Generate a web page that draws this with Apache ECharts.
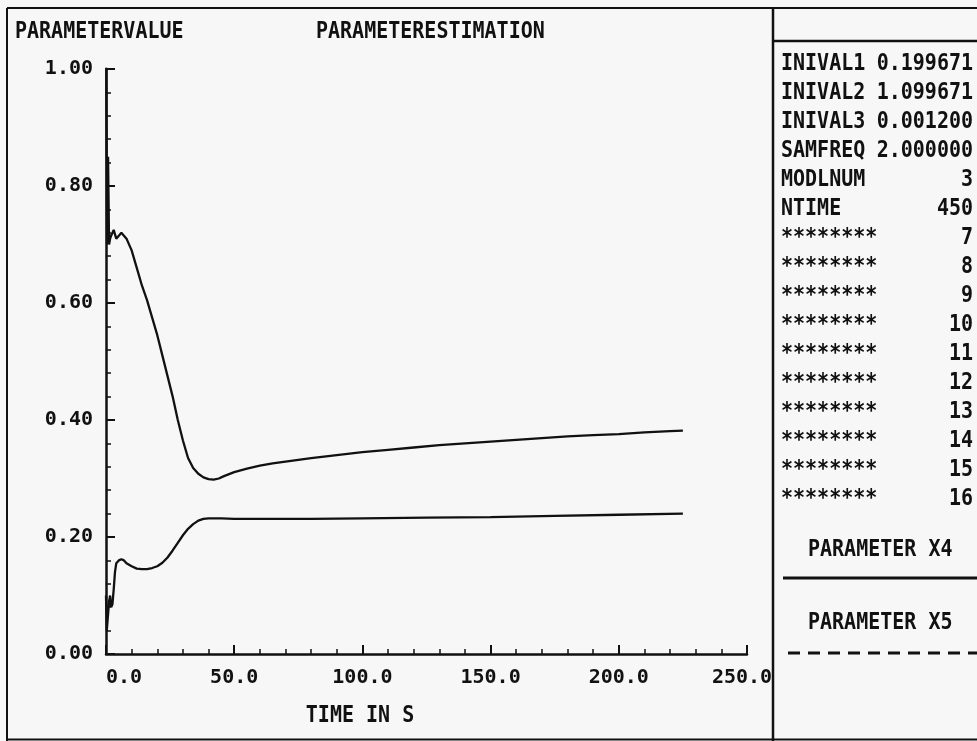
<!DOCTYPE html>
<html>
<head>
<meta charset="utf-8">
<title>PARAMETERESTIMATION</title>
<script src="https://cdn.jsdelivr.net/npm/echarts@6/dist/echarts.min.js"></script>
<style>
  html, body { margin: 0; padding: 0; background: #f7f7f7; }
  #chart { width: 977px; height: 741px; }
</style>
</head>
<body>
<div id="chart"></div>
<script>
// Estimated parameter X4 (upper trace) over time in seconds
const timeX4 = [0, 0.4, 0.8, 1.2, 1.6, 2, 3, 4, 5, 6, 7, 8, 10, 12, 14, 16, 18, 20, 22, 24, 26, 28, 30, 32, 34, 36, 38, 40, 42, 44, 46, 50, 55, 60, 65, 70, 80, 90, 100, 110, 120, 130, 140, 150, 160, 170, 180, 190, 200, 210, 220, 225];
const valueX4 = [1.0997, 0.70, 0.85, 0.70, 0.71, 0.715, 0.725, 0.71, 0.715, 0.72, 0.715, 0.71, 0.69, 0.66, 0.63, 0.605, 0.575, 0.545, 0.51, 0.475, 0.44, 0.40, 0.365, 0.335, 0.318, 0.308, 0.302, 0.299, 0.298, 0.300, 0.304, 0.311, 0.317, 0.322, 0.326, 0.329, 0.335, 0.340, 0.345, 0.349, 0.353, 0.357, 0.360, 0.363, 0.366, 0.369, 0.372, 0.374, 0.376, 0.379, 0.381, 0.382];

// Estimated parameter X5 (lower trace)
const timeX5 = [0, 0.3, 1, 1.2, 1.6, 2, 2.5, 3, 3.5, 4, 5, 6, 7, 8, 10, 12, 14, 16, 18, 20, 22, 24, 26, 28, 30, 32, 34, 36, 38, 40, 45, 50, 60, 80, 100, 125, 150, 175, 200, 225];
const valueX5 = [0.10, 0.04, 0.04, 0.09, 0.10, 0.08, 0.085, 0.11, 0.14, 0.155, 0.16, 0.162, 0.16, 0.155, 0.15, 0.146, 0.145, 0.145, 0.147, 0.15, 0.156, 0.165, 0.177, 0.19, 0.203, 0.214, 0.222, 0.228, 0.231, 0.232, 0.232, 0.231, 0.231, 0.231, 0.232, 0.233, 0.234, 0.236, 0.238, 0.240];

// Run parameters listed in the side panel
const panelNames = ['INIVAL1', 'INIVAL2', 'INIVAL3', 'SAMFREQ', 'MODLNUM', 'NTIME',
  '********', '********', '********', '********', '********', '********', '********', '********', '********', '********'];
const panelValues = ['0.199671', '1.099671', '0.001200', '2.000000', '3', '450',
  '7', '8', '9', '10', '11', '12', '13', '14', '15', '16'];
const legendNames = ['PARAMETER X4', 'PARAMETER X5'];

const FONT = 'bold 20px "DejaVu Sans Mono", monospace';
const MONO = '"DejaVu Sans Mono", monospace';
const INK = '#111';

const chart = echarts.init(document.getElementById('chart'), null, { renderer: 'canvas' });

const graphics = [];
function hline(x1, x2, y, w, dash) {
  graphics.push({ type: 'line', silent: true,
    shape: { x1: x1, y1: y, x2: x2, y2: y },
    style: { stroke: INK, lineWidth: w, lineDash: dash || null } });
}
function vline(x, y1, y2, w) {
  graphics.push({ type: 'line', silent: true,
    shape: { x1: x, y1: y1, x2: x, y2: y2 },
    style: { stroke: INK, lineWidth: w } });
}
// plotter lettering is tall and narrow: stretch the monospace glyphs vertically
function label(text, x, y, align) {
  graphics.push({ type: 'text', silent: true, x: x, y: y, scaleY: 1.15,
    style: { text: text, font: FONT, fill: INK, textAlign: align || 'left', textVerticalAlign: 'middle' } });
}

// sheet frame
hline(7, 977, 8, 2);
vline(7, 8, 741, 2);
hline(7, 977, 739.5, 2);
vline(773, 8, 741, 2.5);
hline(773, 977, 41, 2.5);

// headings
label('PARAMETERVALUE', 15, 32);
label('PARAMETERESTIMATION', 316, 32);
label('TIME IN S', 360, 716, 'center');

// side panel rows
const rowTop = 64, rowStep = 29;
panelNames.forEach(function (n, i) {
  const y = rowTop + i * rowStep;
  label(n, 781, y);
  label(panelValues[i], 973, y, 'right');
});

// legend entries
label(legendNames[0], 808, 550);
hline(783, 977, 578, 3);
label(legendNames[1], 808, 623);
hline(788, 977, 653, 3, [12, 8]);

const option = {
  backgroundColor: '#f7f7f7',
  animation: false,
  grid: { left: 106, top: 69, width: 641, height: 585, containLabel: false },
  xAxis: {
    type: 'value', min: 0, max: 250, interval: 50,
    axisLine: { show: true, onZero: false, lineStyle: { color: INK, width: 2.5 } },
    axisTick: { show: true, inside: true, length: 9, lineStyle: { color: INK, width: 2 } },
    minorTick: { show: true, splitNumber: 5, length: 5, lineStyle: { color: INK, width: 1.5 } },
    splitLine: { show: false },
    axisLabel: {
      margin: 14, color: INK, fontFamily: MONO, fontWeight: 'bold', fontSize: 20,
      alignMinLabel: 'left',
      // the last label is nudged left so it stays clear of the panel divider
      formatter: function (v) { return v === 250 ? '{last|' + v.toFixed(1) + '}' : v.toFixed(1); },
      rich: { last: { padding: [0, 10, 0, 0], color: INK, fontFamily: MONO, fontWeight: 'bold', fontSize: 20 } }
    }
  },
  yAxis: {
    type: 'value', min: 0, max: 1, interval: 0.2,
    axisLine: { show: true, onZero: false, lineStyle: { color: INK, width: 2.5 } },
    axisTick: { show: true, inside: true, length: 9, lineStyle: { color: INK, width: 2 } },
    minorTick: { show: true, splitNumber: 5, length: 5, lineStyle: { color: INK, width: 1.5 } },
    splitLine: { show: false },
    axisLabel: {
      margin: 13, color: INK, fontFamily: MONO, fontWeight: 'bold', fontSize: 20,
      formatter: function (v) { return v.toFixed(2); }
    }
  },
  series: [
    { name: legendNames[0], type: 'line', showSymbol: false, clip: true,
      lineStyle: { color: INK, width: 2.3 },
      data: timeX4.map(function (t, i) { return [t, valueX4[i]]; }) },
    { name: legendNames[1], type: 'line', showSymbol: false, clip: true,
      lineStyle: { color: INK, width: 2.3 },
      data: timeX5.map(function (t, i) { return [t, valueX5[i]]; }) }
  ],
  graphic: graphics
};

chart.setOption(option);
</script>
</body>
</html>
